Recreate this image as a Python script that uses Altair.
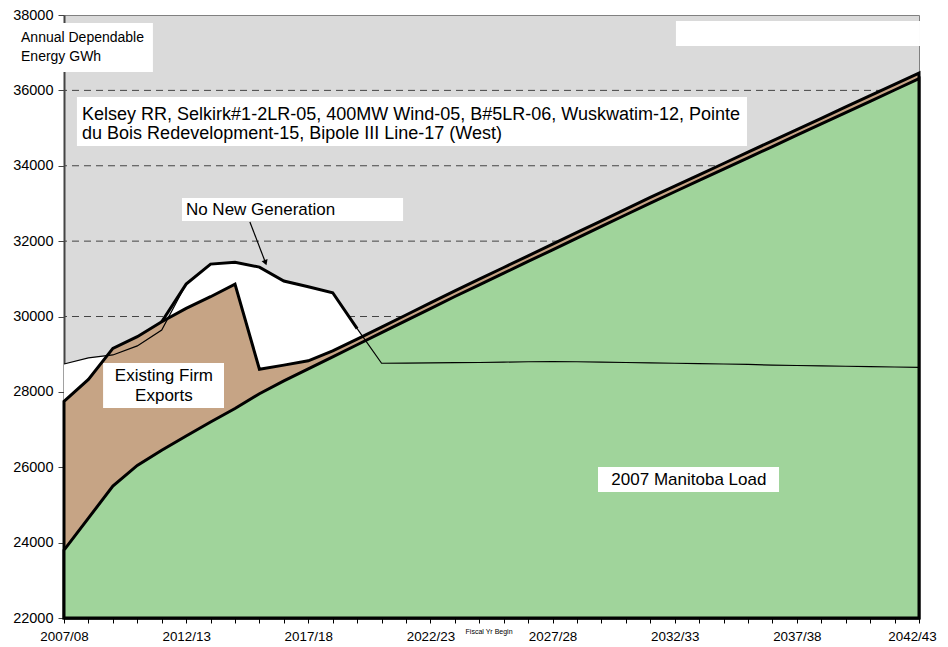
import altair as alt
import pandas as pd

# ---------------- data ----------------
years = list(range(2007, 2043))

# 2007 Manitoba Load (GWh)
load = [23800, 24650, 25500, 26050, 26450, 26830, 27200, 27560, 27950, 28290,
        28610, 28930, 29250, 29570, 29890, 30210, 30530, 30840, 31150, 31460,
        31770, 32080, 32390, 32700, 33010, 33310, 33610, 33910, 34210, 34510,
        34810, 35110, 35410, 35710, 36010, 36310]

# Existing Firm Exports (GWh, stacked on load)
exports = [3950, 3680, 3655, 3415, 3410, 3385, 3325, 3300, 650, 420,
           215, 160, 150, 150, 150, 150, 150, 150, 150, 150,
           150, 150, 150, 150, 150, 150, 150, 150, 150, 150,
           150, 150, 150, 150, 150, 150]

# Dependable energy with no new generation (GWh)
supply = [28740, 28900, 28980, 29220, 29640, 30860, 31390, 31440, 31310, 30940,
          30790, 30630, 29680, 28760, 28765, 28770, 28775, 28780, 28790, 28800,
          28805, 28800, 28790, 28780, 28770, 28760, 28750, 28740, 28730, 28710,
          28700, 28690, 28680, 28670, 28660, 28650]

label_years = [2007, 2012, 2017, 2022, 2027, 2032, 2037, 2042]
fiscal_labels = ["2007/08", "2012/13", "2017/18", "2022/23",
                 "2027/28", "2032/33", "2037/38", "2042/43"]
y_ticks = [22000, 24000, 26000, 28000, 30000, 32000, 34000, 36000, 38000]
grid_values = [24000, 26000, 28000, 30000, 32000, 34000, 36000]

df = pd.DataFrame({"year": years, "load": load, "exports": exports, "supply": supply})

# ---------------- styling ----------------
FONT = "Liberation Sans, Arial, sans-serif"
GRAY_BG = "#dadada"
GREEN = "#a0d49b"
BROWN = "#c6a485"

label_expr = " : ".join(
    f"datum.value == {y} ? '{l}'" for y, l in zip(label_years, fiscal_labels)
) + " : ''"

xscale = alt.Scale(domain=[2007, 2042], nice=False, zero=False)
yscale = alt.Scale(domain=[22000, 38000], nice=False, zero=False)

xaxis = alt.Axis(values=years, labelExpr=label_expr, title=None, grid=False,
                 tickSize=5, tickColor="black", tickWidth=1,
                 domainColor="black", domainWidth=2,
                 labelFontSize=13.4, labelFont=FONT, labelColor="black",
                 labelPadding=6, labelOverlap=False, labelFlush=False,
                 labelOffset={"condition": {"test": "datum.value == 2042", "value": -7},
                              "value": 0})
yaxis = alt.Axis(values=y_ticks, format="d", title=None, grid=False,
                 tickSize=6, tickColor="#444444", domainColor="#444444",
                 domainWidth=2, labelFontSize=14.5, labelFont=FONT,
                 labelColor="black", labelPadding=5)


def X(field):
    return alt.X(field, scale=xscale, axis=xaxis)


def Y(field):
    return alt.Y(field, scale=yscale, axis=yaxis)


base = alt.Chart(df)

grid_layer = alt.Chart(pd.DataFrame({"g": grid_values})).mark_rule(
    color="#444444", strokeWidth=1, strokeDash=[7, 5]
).encode(y=Y("g:Q"))

white_area = base.mark_area(fill="white").encode(
    x=X("year:Q"), y=Y("supply:Q"), y2=alt.datum(22000))

brown_area = base.transform_calculate(
    top="datum.load + datum.exports"
).mark_area(fill=BROWN, stroke="black", strokeWidth=3).encode(
    x=X("year:Q"), y=Y("top:Q"), y2=alt.datum(22000))

green_area = base.mark_area(fill=GREEN, stroke="black", strokeWidth=3).encode(
    x=X("year:Q"), y=Y("load:Q"), y2=alt.datum(22000))

hump_line = base.transform_calculate(
    top="datum.load + datum.exports"
).transform_calculate(
    hump="max(datum.supply, datum.top)"
).transform_filter(
    "datum.year >= 2011 && datum.year <= 2019"
).mark_line(color="black", strokeWidth=3).encode(
    x=X("year:Q"), y=Y("hump:Q"))

thin_line = base.mark_line(color="black", strokeWidth=1.2).encode(
    x=X("year:Q"), y=Y("supply:Q"))

# ---------------- annotation boxes (data coordinates) ----------------
boxes = pd.DataFrame({
    "x0": [2005.20, 2007.53, 2011.83, 2008.60, 2028.86, 2032.05],
    "x1": [2010.64, 2034.96, 2020.88, 2013.55, 2036.27, 2042.04],
    "y0": [37788, 35824, 33144, 28766, 26007, 37841],
    "y1": [36488, 34524, 32534, 27572, 25343, 37177],
})
box_layer = alt.Chart(boxes).mark_rect(fill="white").encode(
    x=X("x0:Q"), x2="x1:Q", y=Y("y0:Q"), y2="y1:Q")

left_texts = pd.DataFrame({
    "x": [2005.24, 2005.24, 2007.74, 2007.74, 2011.99],
    "y": [37390, 36886, 35347, 34842, 32839],
    "size": [14, 14, 18, 18, 17],
    "text": ["Annual Dependable", "Energy GWh",
             "Kelsey RR, Selkirk#1-2LR-05, 400MW Wind-05, B#5LR-06, Wuskwatim-12, Pointe",
             "du Bois Redevelopment-15, Bipole III Line-17 (West)",
             "No New Generation"],
})
left_text_layer = alt.Chart(left_texts).mark_text(
    align="left", baseline="middle", font=FONT, color="black"
).encode(x=X("x:Q"), y=Y("y:Q"), text="text:N",
         size=alt.Size("size:Q", scale=None, legend=None))

center_texts = pd.DataFrame({
    "x": [2011.09, 2011.09, 2032.58],
    "y": [28434, 27891, 25662],
    "text": ["Existing Firm", "Exports", "2007 Manitoba Load"],
})
center_text_layer = alt.Chart(center_texts).mark_text(
    align="center", baseline="middle", font=FONT, color="black", fontSize=17
).encode(x=X("x:Q"), y=Y("y:Q"), text="text:N")

fiscal = pd.DataFrame({"x": [2024.40], "y": [21629], "text": ["Fiscal Yr Begin"]})
fiscal_layer = alt.Chart(fiscal).mark_text(
    align="center", baseline="middle", font=FONT, color="black", fontSize=7
).encode(x=X("x:Q"), y=Y("y:Q"), text="text:N")

arrow = pd.DataFrame({"x": [2014.61, 2015.25], "y": [32507, 31426]})
arrow_line = alt.Chart(arrow).mark_line(color="black", strokeWidth=1.2).encode(
    x=X("x:Q"), y=Y("y:Q"))
arrow_head = alt.Chart(arrow.iloc[[1]]).mark_point(
    shape="triangle-down", filled=True, color="black", size=40, angle=340, opacity=1
).encode(x=X("x:Q"), y=Y("y:Q"))

chart = alt.layer(
    grid_layer, white_area, brown_area, green_area, hump_line, thin_line,
    box_layer, left_text_layer, center_text_layer, fiscal_layer,
    arrow_line, arrow_head,
).properties(
    width=855, height=603, autosize="none",
    padding={"left": 56, "top": 7, "right": 21, "bottom": 28},
    background="white",
).configure_view(
    fill=GRAY_BG, stroke="#808080", strokeWidth=1
)

chart.save("out.html", embed_options={"renderer": "svg", "actions": False})
